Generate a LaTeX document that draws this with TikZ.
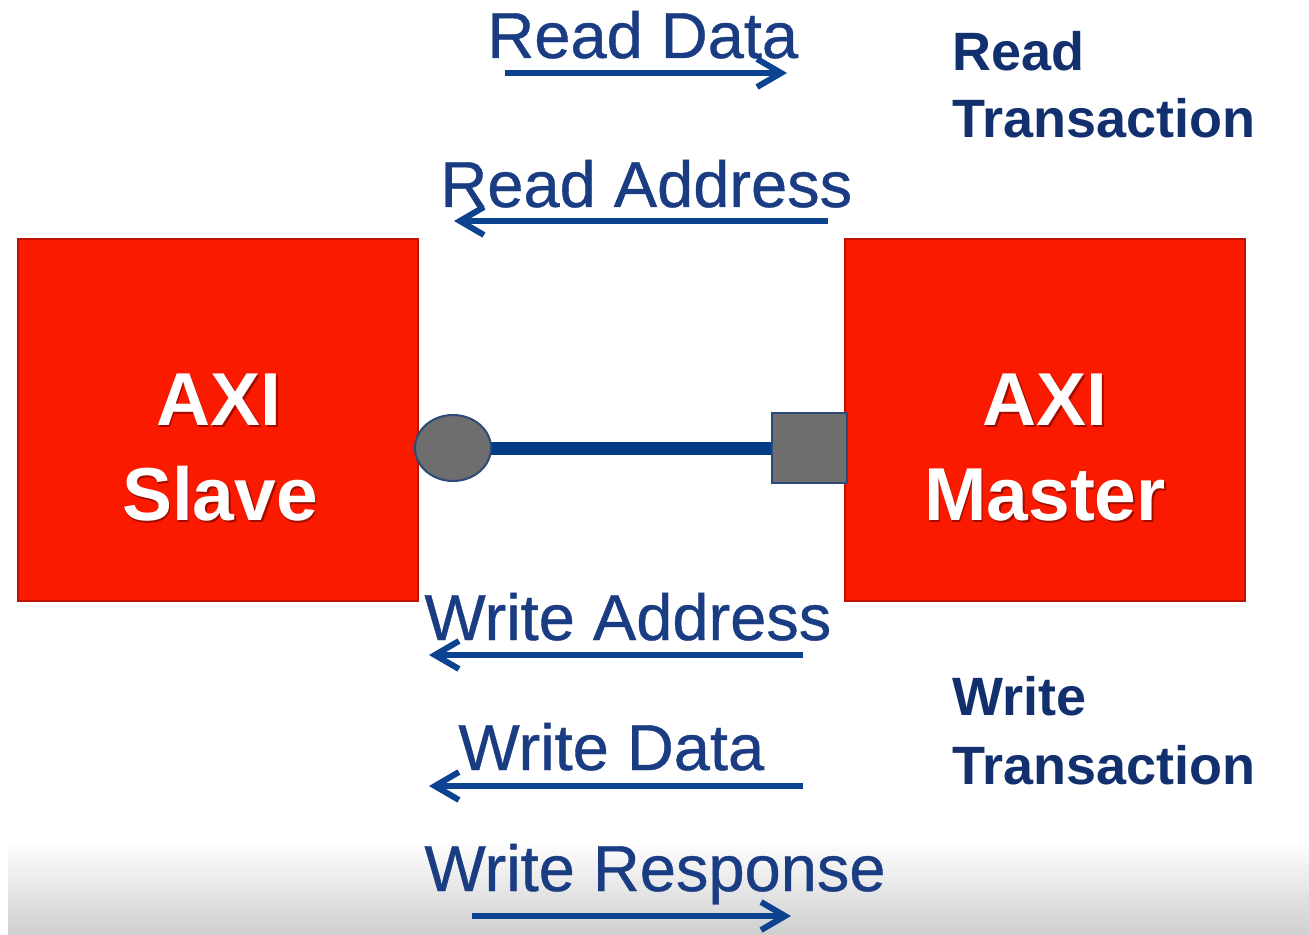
\documentclass[tikz,border=0pt]{standalone}
\usepackage{fontspec}
\setmainfont{Liberation Sans}
\newfontfamily\labfont{Liberation Sans}[FakeBold=0.6]
\usetikzlibrary{arrows.meta,shapes.geometric}
\definecolor{axired}{HTML}{FA1A00}
\definecolor{axiborder}{HTML}{C01200}
\definecolor{shadowred}{HTML}{A00C00}
\definecolor{labblue}{HTML}{1A3C82}
\definecolor{transblue}{HTML}{12306E}
\definecolor{arrowblue}{HTML}{0C4390}
\definecolor{busblue}{HTML}{003C84}
\definecolor{portgray}{HTML}{6E6E6E}
\definecolor{portedge}{HTML}{2C4A78}
\pgfdeclarelayer{back}
\pgfdeclarelayer{mid}
\pgfsetlayers{back,mid,main}
\begin{document}
\begin{tikzpicture}[x=0.5pt,y=-0.5pt,
  axibox/.style={draw=axiborder, line width=1pt, fill=axired, minimum width=200pt, minimum height=181pt, inner sep=0pt},
  boxtext/.style={font=\fontsize{37.5}{45}\selectfont\bfseries, text=white, inner sep=0pt, anchor=base},
  boxshadow/.style={boxtext, text=shadowred},
  port/.style={draw=portedge, line width=1pt, fill=portgray, inner sep=0pt},
  bus/.style={draw=busblue, line width=6.5pt},
  flow/.style={draw=arrowblue, line width=3pt, -{Straight Barb[length=12pt,width=14pt]}},
  lab/.style={font=\labfont\fontsize{32.5}{39}\selectfont, text=labblue, inner sep=0pt, anchor=base west},
  trans/.style={font=\fontsize{27}{34}\selectfont\bfseries, text=transblue, inner sep=0pt, anchor=base west}]
\useasboundingbox (0,0) rectangle (1309,935);
\begin{pgfonlayer}{back}
  \fill[white] (0,0) rectangle (1309,935);
  \shade[top color=white, bottom color=black!19] (8,840) rectangle (1309,935);
\end{pgfonlayer}

% boxes
\node[axibox] (slave) at (218,420) {};
\node[axibox] (master) at (1045,420) {};
\node[boxshadow] (slaveshA) at (220.5,427) {AXI};
\node[boxshadow] (slaveshB) at (221.5,522) {Slave};
\node[boxtext] (slaveA) at (219,425) {AXI};
\node[boxtext] (slaveB) at (220,520) {Slave};
\node[boxshadow] (mastershA) at (1046.5,427) {AXI};
\node[boxshadow] (mastershB) at (1046.5,522) {Master};
\node[boxtext] (masterA) at (1045,425) {AXI};
\node[boxtext] (masterB) at (1045,520) {Master};

% ports and bus
\node[port, ellipse, minimum width=38pt, minimum height=33pt] (sport) at (453,448) {};
\node[port, rectangle, minimum width=37.5pt, minimum height=35pt] (mport) at (809.5,448) {};
\begin{pgfonlayer}{mid}
  \draw[bus] (sport.center) -- (mport.center);
\end{pgfonlayer}

% labels
\node[lab] (rdl) at (487,58) {Read Data};
\node[lab] (ral) at (440,207) {Read Address};
\node[lab] (wal) at (424,640) {Write Address};
\node[lab] (wdl) at (458,770) {Write Data};
\node[lab] (wrl) at (424,891) {Write Response};

\node[trans] (rt1) at (952,71) {Read};
\node[trans] (rt2) at (952,138) {Transaction};
\node[trans] (wt1) at (952,715) {Write};
\node[trans] (wt2) at (952,784) {Transaction};

% arrows
\coordinate (rdS) at (505,73);  \coordinate (rdE) at (787,73);
\coordinate (raS) at (828,221); \coordinate (raE) at (454,221);
\coordinate (waS) at (803,655); \coordinate (waE) at (429,655);
\coordinate (wdS) at (803,786); \coordinate (wdE) at (429,786);
\coordinate (wrS) at (472,916); \coordinate (wrE) at (791,916);
\draw[flow] (rdS) -- (rdE);
\draw[flow] (raS) -- (raE);
\draw[flow] (waS) -- (waE);
\draw[flow] (wdS) -- (wdE);
\draw[flow] (wrS) -- (wrE);
\end{tikzpicture}
\end{document}
